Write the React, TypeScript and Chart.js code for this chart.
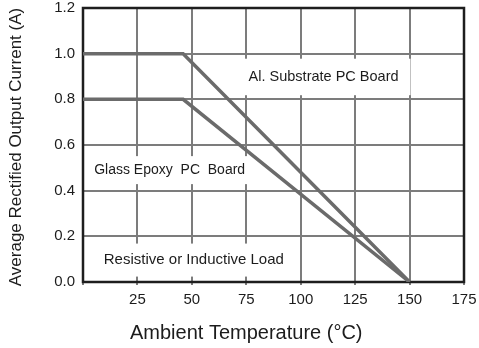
import { useEffect, useRef } from "react";
import { Chart, registerables } from "chart.js";

Chart.register(...registerables);

// ---- data ----
const temperatureMin = 0;
const temperatureMax = 175;
const temperatureStep = 25;
const currentMin = 0;
const currentMax = 1.2;
const currentStep = 0.2;

const alSubstrateTemp = [0, 46, 150];
const alSubstrateCurrent = [1.0, 1.0, 0];
const glassEpoxyTemp = [0, 46, 150];
const glassEpoxyCurrent = [0.8, 0.8, 0];

const xAxisTitle = "Ambient Temperature (°C)";
const yAxisTitle = "Average Rectified Output Current (A)";
const noteTexts = ["Al. Substrate PC Board", "Glass Epoxy  PC  Board", "Resistive or Inductive Load"];

// ---- styles ----
const FONT = '"Liberation Sans", Arial, Helvetica, sans-serif';
const TEXT_COLOR = "#1c1c1c";
const LINE_COLOR = "#6b6b6b";
const GRID_COLOR = "#7c7c7c";
const BORDER_COLOR = "#1e1e1e";

// note anchors (in data units) and styling
const noteStyles = [
  { x: 110.5, y: 0.898, size: 14.5, padX: 12, padY: 11 },
  { x: 39.8, y: 0.49, size: 14, padX: 5, padY: 7 },
  { x: 50.9, y: 0.096, size: 15, padX: 10, padY: 9 },
];

const decorPlugin = {
  id: "decor",
  beforeDatasetsDraw(chart: any) {
    const { ctx, chartArea } = chart;
    const xs = chart.scales.x;
    const ys = chart.scales.y;
    ctx.save();
    noteTexts.forEach((t, i) => {
      const st = noteStyles[i];
      const px = xs.getPixelForValue(st.x);
      const py = ys.getPixelForValue(st.y);
      ctx.font = `${st.size}px ${FONT}`;
      const w = ctx.measureText(t).width;
      ctx.fillStyle = "#ffffff";
      ctx.fillRect(px - w / 2 - st.padX, py - st.size / 2 - st.padY, w + 2 * st.padX, st.size + 2 * st.padY);
      ctx.fillStyle = TEXT_COLOR;
      ctx.textAlign = "center";
      ctx.textBaseline = "middle";
      ctx.fillText(t, px, py);
    });
    ctx.strokeStyle = BORDER_COLOR;
    ctx.lineWidth = 2.5;
    ctx.strokeRect(chartArea.left, chartArea.top, chartArea.right - chartArea.left, chartArea.bottom - chartArea.top);
    ctx.restore();
  },
  afterDraw(chart: any) {
    const { ctx, chartArea } = chart;
    ctx.save();
    ctx.fillStyle = TEXT_COLOR;
    ctx.textBaseline = "middle";
    // x title
    ctx.font = `20px ${FONT}`;
    ctx.textAlign = "left";
    ctx.fillText(xAxisTitle, 130, 333);
    // y title
    ctx.font = `17px ${FONT}`;
    ctx.textAlign = "center";
    ctx.translate(16, (chartArea.top + chartArea.bottom) / 2 + 2);
    ctx.rotate(-Math.PI / 2);
    ctx.fillText(yAxisTitle, 0, 0);
    ctx.restore();
  },
};

export default function App() {
  const ref = useRef<HTMLCanvasElement | null>(null);

  useEffect(() => {
    if (!ref.current) return;
    const chart = new Chart(ref.current, {
      type: "line",
      data: {
        datasets: [
          {
            label: noteTexts[0],
            data: alSubstrateTemp.map((t, i) => ({ x: t, y: alSubstrateCurrent[i] })),
            borderColor: LINE_COLOR,
            borderWidth: 3.5,
            pointRadius: 0,
            tension: 0,
          },
          {
            label: noteTexts[1],
            data: glassEpoxyTemp.map((t, i) => ({ x: t, y: glassEpoxyCurrent[i] })),
            borderColor: LINE_COLOR,
            borderWidth: 3.5,
            pointRadius: 0,
            tension: 0,
          },
        ],
      },
      options: {
        responsive: false,
        animation: false,
        devicePixelRatio: 1,
        layout: { padding: { top: 8, right: 15, left: 0, bottom: 0 } },
        plugins: { legend: { display: false }, tooltip: { enabled: false } },
        scales: {
          x: {
            type: "linear",
            min: temperatureMin,
            max: temperatureMax,
            afterFit: (s: any) => {
              s.height = 66;
              s.paddingLeft = 0;
              s.paddingRight = 0;
            },
            ticks: {
              stepSize: temperatureStep,
              padding: 6,
              color: TEXT_COLOR,
              font: { size: 15, family: FONT },
              callback: (v: any) => (v === 0 ? "" : String(v)),
              maxRotation: 0,
            },
            grid: { color: GRID_COLOR, lineWidth: 2, drawTicks: true, tickLength: 3 },
            border: { display: false },
          },
          y: {
            type: "linear",
            min: currentMin,
            max: currentMax,
            afterFit: (s: any) => {
              s.width = 83;
              s.paddingTop = 0;
              s.paddingBottom = 0;
            },
            ticks: {
              stepSize: currentStep,
              padding: 8,
              color: TEXT_COLOR,
              font: { size: 15, family: FONT },
              callback: (v: any) => Number(v).toFixed(1),
            },
            grid: { color: GRID_COLOR, lineWidth: 2, drawTicks: false },
            border: { display: false },
          },
        },
      },
      plugins: [decorPlugin],
    } as any);
    return () => chart.destroy();
  }, []);

  return (
    <div style={{ position: "absolute", left: 0, top: 0, width: 479, height: 348, background: "#fff" }}>
      <canvas ref={ref} width={479} height={348} style={{ display: "block" }} />
    </div>
  );
}
